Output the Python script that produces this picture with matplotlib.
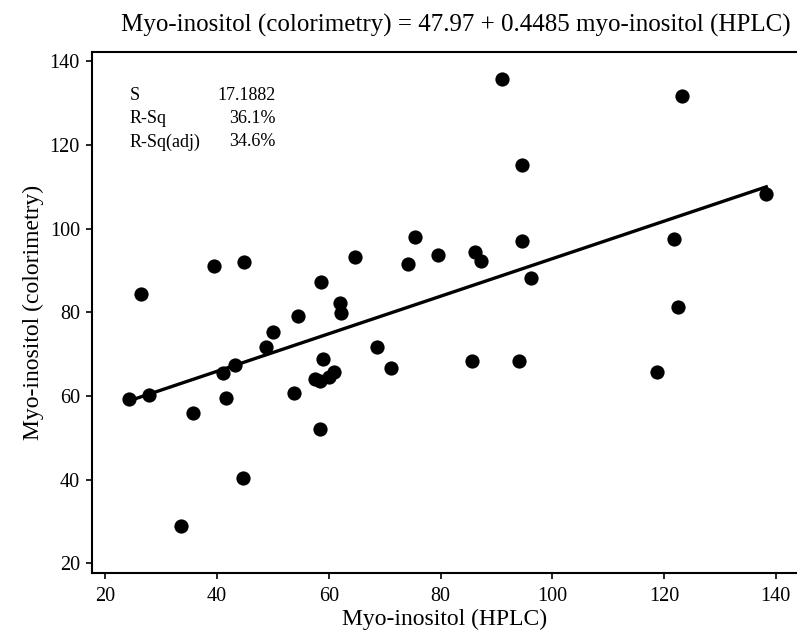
import numpy as np
import matplotlib
matplotlib.use("Agg")
import matplotlib.pyplot as plt

plt.rcParams['font.family'] = ['Liberation Serif', 'DejaVu Serif']

# Data
hplc = [24.3, 26.3, 27.8, 33.6, 35.6, 39.4, 41.0, 41.6, 43.2, 44.6, 44.8, 48.7,
        50.0, 53.8, 54.5, 57.6, 58.4, 58.4, 58.6, 59.0, 60.0, 61.0, 61.9, 62.2,
        64.7, 68.7, 71.2, 74.1, 75.4, 79.5, 85.7, 86.2, 87.3, 91.05, 94.0, 94.6,
        94.6, 96.2, 118.7, 121.85, 122.5, 123.2, 138.3]
color = [59.3, 84.3, 60.2, 29.0, 55.9, 91.1, 65.4, 59.4, 67.5, 40.5, 92.0, 71.8,
         75.2, 60.6, 79.0, 64.1, 63.6, 52.1, 87.2, 68.8, 64.5, 65.8, 82.2, 79.9,
         93.2, 71.8, 66.7, 91.6, 97.9, 93.6, 68.4, 94.5, 92.3, 135.7, 68.4, 115.1,
         97.1, 88.1, 65.8, 97.5, 81.3, 131.8, 108.2]
intercept = 47.97
slope = 0.4485
stat_names = ["S", "R-Sq", "R-Sq(adj)"]
stat_values = ["17.1882", "36.1%", "34.6%"]
x_ticks = [20, 40, 60, 80, 100, 120, 140]
y_ticks = [20, 40, 60, 80, 100, 120, 140]

fig = plt.figure(figsize=(7.97, 6.43), dpi=100)
ax = fig.add_axes([0.115, 0.1093, 0.885, 0.8103])

ax.scatter(hplc, color, s=105, color='black', zorder=3, linewidths=0)
xl = np.array([min(hplc), max(hplc)])
ax.plot(xl, intercept + slope * xl, color='black', lw=2.4, zorder=2)

ax.set_xlim(17.53, 143.8)
ax.set_ylim(17.75, 142.3)
ax.set_xticks(x_ticks)
ax.set_yticks(y_ticks)
ax.tick_params(direction='out', length=4.5, width=1.2, labelsize=14.5, pad=4,
               top=False, right=False)
ax.tick_params(axis='x', pad=6)
for sp in ['left', 'bottom', 'top']:
    ax.spines[sp].set_linewidth(1.5)
ax.spines['right'].set_visible(False)

ax.set_xlabel("Myo-inositol (HPLC)", fontsize=17, labelpad=2)
ax.set_ylabel("Myo-inositol (colorimetry)", fontsize=17, labelpad=4)

fig.text(791/797, 1 - 25/643,
         "Myo-inositol (colorimetry) = 47.97 + 0.4485 myo-inositol (HPLC)",
         ha='right', va='center', fontsize=18)

for i, (n, v) in enumerate(zip(stat_names, stat_values)):
    yy = 1 - (95 + i * 23.5) / 643
    fig.text(130/797, yy, n, ha='left', va='center', fontsize=13)
    fig.text(276/797, yy, v, ha='right', va='center', fontsize=13)

fig.savefig("out.png", dpi=100)
